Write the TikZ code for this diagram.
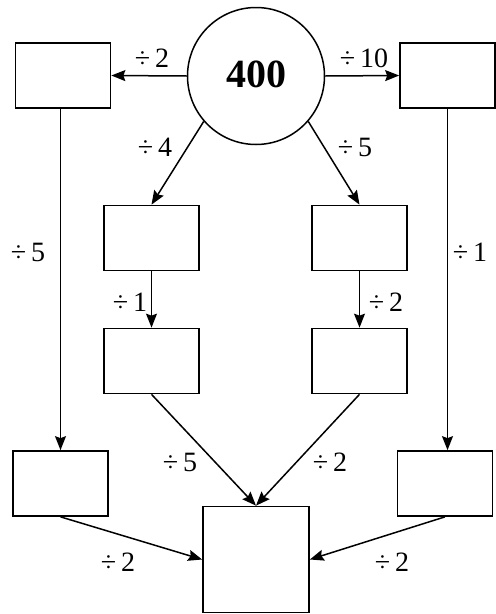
\documentclass[tikz,border=0pt]{standalone}
\usepackage{fontspec}
\setmainfont{Liberation Serif}
\usetikzlibrary{arrows.meta}
\begin{document}
\begin{tikzpicture}[x=1pt,y=-1pt,
  box/.style={draw,line width=1.7pt,minimum width=95pt,minimum height=65pt,inner sep=0pt},
  bigbox/.style={draw,line width=1.7pt,minimum width=106pt,minimum height=106pt,inner sep=0pt},
  arr/.style={line width=1.5pt,-{Stealth[length=14pt,width=11pt,inset=2pt]}},
  lab/.style={font=\fontsize{28}{30}\selectfont,inner sep=0pt}]
\useasboundingbox (0,0) rectangle (496,614);
\node[draw,circle,line width=1.5pt,minimum size=137pt,inner sep=0pt] (c) at (256,76) {};
\node[font=\fontsize{40}{42}\selectfont\bfseries] (t) at (256,74) {400};
\node[box] (tl) at (63,75.5) {};
\node[box] (tr) at (447.5,75.5) {};
\node[box] (ml1) at (151.5,238) {};
\node[box] (mr1) at (359.5,238) {};
\node[box] (ml2) at (151.5,361) {};
\node[box] (mr2) at (359.5,361) {};
\node[box] (bl) at (60.5,483.5) {};
\node[box] (br) at (445,483.5) {};
\node[bigbox] (bc) at (256,559.5) {};
\draw[arr] (c.west) -- (tl.east);
\draw[arr] (c.east) -- (tr.west);
\draw[arr] (c.221.5) -- (ml1.north);
\draw[arr] (c.319) -- (mr1.north);
\draw[arr] (bl.north |- tl.south) -- (bl.north);
\draw[arr] (tr.south) -- (tr.south |- br.north);
\draw[arr] (ml1.south) -- (ml2.north);
\draw[arr] (mr1.south) -- (mr2.north);
\draw[arr] (ml2.south) -- (bc.north);
\draw[arr] (mr2.south) -- (bc.north);
\draw[arr] (bl.south) -- (bc.west);
\draw[arr] (br.south) -- (bc.east);
\node[lab] (l1) at (152,58) {÷\,2};
\node[lab] (l2) at (364,58) {÷\,10};
\node[lab] (l3) at (155,147) {÷\,4};
\node[lab] (l4) at (355,147) {÷\,5};
\node[lab] (l5) at (28,252) {÷\,5};
\node[lab] (l6) at (470,252) {÷\,1};
\node[lab] (l7) at (130,302) {÷\,1};
\node[lab] (l8) at (386,302) {÷\,2};
\node[lab] (l9) at (180,462) {÷\,5};
\node[lab] (l10) at (330,462) {÷\,2};
\node[lab] (l11) at (118,562) {÷\,2};
\node[lab] (l12) at (392,562) {÷\,2};
\end{tikzpicture}
\end{document}
